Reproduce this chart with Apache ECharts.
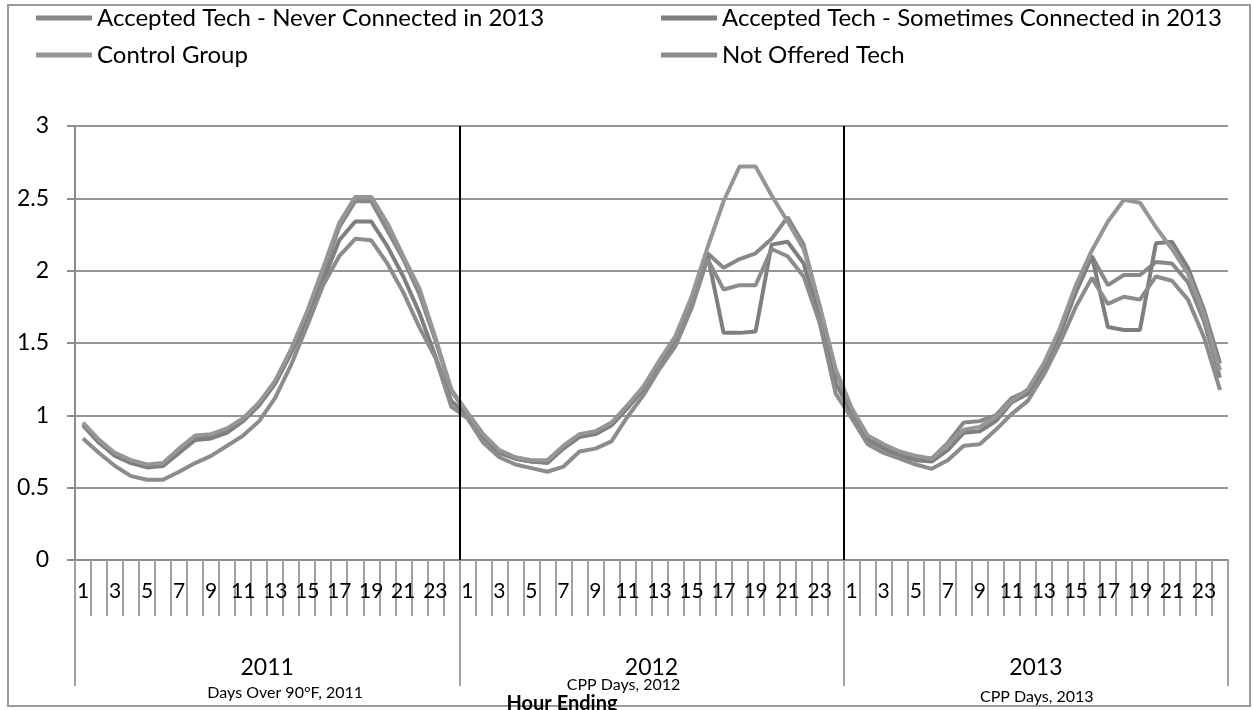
<!DOCTYPE html>
<html><head><meta charset="utf-8">
<script src="https://cdn.jsdelivr.net/npm/echarts@6/dist/echarts.min.js"></script>
<style>html,body{margin:0;padding:0;background:#fff}#c{width:1254px;height:710px}</style>
</head><body><div id="c"></div>
<script>
const hourLabels = ['1','2','3','4','5','6','7','8','9','10','11','12','13','14','15','16','17','18','19','20','21','22','23','24'];
const years = ['2011','2012','2013'];
const yearNotes = ['Days Over 90°F, 2011','CPP Days, 2012','CPP Days, 2013'];
const seriesNames = ['Accepted Tech - Never Connected in 2013','Accepted Tech - Sometimes Connected in 2013','Control Group','Not Offered Tech'];

// 72 hourly values: 2011 (1-24), 2012 (1-24), 2013 (1-24)
const neverConnected = [
  0.94,0.82,0.73,0.68,0.65,0.66,0.76,0.85,0.86,0.90,0.97,1.08,1.23,1.45,1.70,1.99,2.30,2.48,2.48,2.28,2.08,1.84,1.52,1.17,
  1.01,0.86,0.75,0.70,0.68,0.68,0.78,0.86,0.88,0.94,1.06,1.19,1.37,1.54,1.80,2.12,2.02,2.08,2.12,2.22,2.37,2.18,1.75,1.30,
  1.04,0.85,0.79,0.74,0.71,0.70,0.81,0.95,0.96,1.00,1.12,1.17,1.35,1.58,1.87,2.10,1.90,1.97,1.97,2.06,2.05,1.92,1.65,1.26
];
const sometimesConnected = [
  0.93,0.81,0.72,0.67,0.64,0.65,0.74,0.83,0.84,0.88,0.96,1.07,1.22,1.43,1.66,1.93,2.21,2.34,2.34,2.17,1.96,1.71,1.41,1.10,
  1.00,0.85,0.74,0.70,0.68,0.67,0.77,0.85,0.87,0.93,1.05,1.18,1.35,1.52,1.78,2.11,1.57,1.57,1.58,2.18,2.20,2.05,1.68,1.22,
  1.02,0.83,0.77,0.72,0.69,0.68,0.76,0.88,0.89,0.96,1.09,1.15,1.33,1.56,1.85,2.10,1.61,1.59,1.59,2.19,2.20,2.02,1.73,1.36
];
const controlGroup = [
  0.95,0.83,0.74,0.69,0.66,0.67,0.77,0.86,0.87,0.91,0.98,1.09,1.24,1.46,1.72,2.02,2.33,2.51,2.51,2.33,2.10,1.88,1.54,1.18,
  1.02,0.87,0.76,0.71,0.69,0.69,0.79,0.87,0.89,0.95,1.07,1.20,1.38,1.55,1.82,2.16,2.48,2.72,2.72,2.52,2.34,2.15,1.76,1.32,
  1.05,0.86,0.80,0.75,0.72,0.70,0.80,0.90,0.92,0.99,1.10,1.18,1.36,1.60,1.90,2.14,2.34,2.49,2.47,2.30,2.15,1.98,1.70,1.31
];
const notOfferedTech = [
  0.84,0.74,0.65,0.58,0.555,0.555,0.61,0.67,0.72,0.79,0.86,0.96,1.12,1.35,1.62,1.90,2.10,2.22,2.21,2.05,1.85,1.61,1.40,1.06,
  0.98,0.81,0.71,0.66,0.635,0.61,0.645,0.75,0.77,0.82,0.99,1.14,1.32,1.48,1.74,2.08,1.87,1.90,1.90,2.15,2.10,1.96,1.64,1.15,
  0.98,0.80,0.74,0.70,0.66,0.63,0.69,0.79,0.80,0.90,1.01,1.10,1.28,1.50,1.75,1.95,1.77,1.82,1.80,1.96,1.93,1.80,1.54,1.175
];
const yearBoundaries = [24, 48];

const FONT = 'Lato, "Noto Sans", sans-serif';
const categories = [];
years.forEach(y => hourLabels.forEach(h => categories.push(y + '|' + h)));
const seriesData = [neverConnected, sometimesConnected, controlGroup, notOfferedTech];
const colors = ['#888888', '#7f7f7f', '#969696', '#8c8c8c'];

const chart = echarts.init(document.getElementById('c'), null, {renderer: 'canvas'});
const gridLeft = 75, gridRight = 26, gridTop = 126, gridBottom = 150;
const plotW = 1254 - gridLeft - gridRight;
const groupW = plotW / years.length;

const graphics = [
  {type: 'rect', shape: {x: 8, y: 5, width: 1242, height: 701}, style: {fill: 'none', stroke: '#9a9a9a', lineWidth: 2}, silent: true, z: -1}
];
const noteOffsets = [[18, 693], [-28, 685], [1, 697]];
yearNotes.forEach((t, i) => {
  graphics.push({type: 'text', x: gridLeft + groupW * (i + 0.5) + noteOffsets[i][0], y: noteOffsets[i][1],
    style: {text: t, font: '16px ' + FONT, fill: '#000', textAlign: 'center', textVerticalAlign: 'middle'}, silent: true});
});
graphics.push({type: 'text', x: 562, y: 704,
  style: {text: 'Hour Ending', font: 'bold 20px ' + FONT, fill: '#000', textAlign: 'center', textVerticalAlign: 'middle'}, silent: true});

const series = seriesNames.map((n, i) => ({
  name: n, type: 'line', data: seriesData[i], xAxisIndex: 0, yAxisIndex: 0,
  symbol: 'none', smooth: false, animation: false,
  lineStyle: {color: colors[i], width: 4},
  itemStyle: {color: colors[i]}
}));
series.push({
  type: 'line', xAxisIndex: 2, yAxisIndex: 0, data: [], symbol: 'none', animation: false, silent: true,
  markLine: {symbol: 'none', silent: true, animation: false, label: {show: false},
    lineStyle: {color: '#000', width: 2, type: 'solid'},
    data: yearBoundaries.map(b => ({xAxis: b}))}
});

const legendText = {fontFamily: FONT, fontSize: 24, color: '#000', lineHeight: 28};
const option = {
  animation: false,
  backgroundColor: '#fff',
  grid: {left: gridLeft, right: gridRight, top: gridTop, bottom: gridBottom, containLabel: false},
  legend: [
    {data: [seriesNames[0], seriesNames[2]], orient: 'vertical', left: 36, top: 4, padding: 0, itemGap: 9,
     icon: 'rect', itemWidth: 56, itemHeight: 5, textStyle: legendText, selectedMode: false},
    {data: [seriesNames[1], seriesNames[3]], orient: 'vertical', left: 661, top: 4, padding: 0, itemGap: 9,
     icon: 'rect', itemWidth: 56, itemHeight: 5, textStyle: legendText, selectedMode: false}
  ],
  xAxis: [
    {type: 'category', data: categories, position: 'bottom', boundaryGap: true,
     axisLine: {show: true, lineStyle: {color: '#8c8c8c', width: 2}},
     axisTick: {show: true, interval: 0, length: 56, lineStyle: {color: '#a0a0a0', width: 2}},
     axisLabel: {interval: (idx) => idx % 2 === 0, formatter: v => v.split('|')[1], margin: 21,
       fontFamily: FONT, fontSize: 21, color: '#000'},
     splitLine: {show: false}},
    {type: 'category', data: years, position: 'bottom', boundaryGap: true,
     axisLine: {show: false},
     axisTick: {show: true, interval: 0, length: 126, lineStyle: {color: '#a0a0a0', width: 2}},
     axisLabel: {margin: 96, fontFamily: FONT, fontSize: 23, color: '#000'},
     splitLine: {show: false}},
    {type: 'value', min: 0, max: 72, show: false}
  ],
  yAxis: [{type: 'value', min: 0, max: 3, interval: 0.5,
    axisLine: {show: true, lineStyle: {color: '#8c8c8c', width: 2}},
    axisTick: {show: true, length: 8, lineStyle: {color: '#8c8c8c', width: 2}},
    axisLabel: {margin: 26, fontFamily: FONT, fontSize: 23, color: '#000'},
    splitLine: {show: true, lineStyle: {color: '#959595', width: 2}}
  }],
  graphic: graphics,
  series: series
};
chart.setOption(option);
</script>
</body></html>
